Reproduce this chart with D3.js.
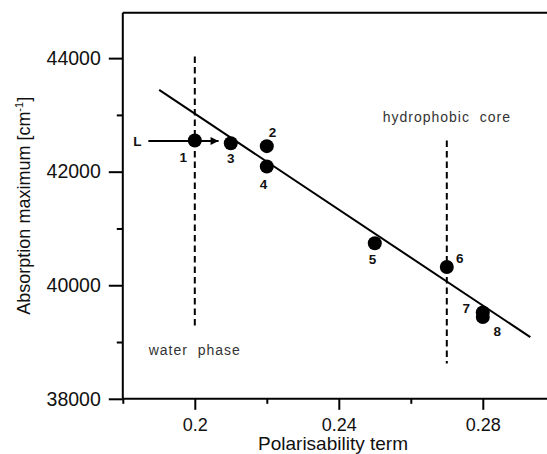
<!DOCTYPE html>
<html>
<head>
<meta charset="utf-8">
<script src="https://cdn.jsdelivr.net/npm/d3@7"></script>
<style>
  html, body { margin: 0; padding: 0; background: #fff; }
  svg { display: block; }
  text { font-family: "Liberation Sans", Arial, Helvetica, sans-serif; }
</style>
</head>
<body>
<script>
// Measured compounds: polarisability term vs. absorption maximum
const ids      = ["1", "2", "3", "4", "5", "6", "7", "8"];
const polar    = [0.20, 0.22, 0.21, 0.22, 0.25, 0.27, 0.28, 0.28];
const absMax   = [42550, 42450, 42500, 42090, 40740, 40320, 39520, 39440];

// Linear trend line (end points)
const fitX = [0.1901, 0.2932];
const fitY = [43440, 39085];

// Reference positions (dashed markers)
const phaseNames = ["water  phase", "hydrophobic  core"];
const phaseX     = [0.20, 0.27];
const phaseTop   = [44030, 42550];
const phaseBot   = [39260, 38620];
const phaseTextY = [38860, 42968];

// Ligand arrow
const arrowX = [0.1871, 0.2066];
const arrowY = 42540;

// Axis ticks
const yMajor = [38000, 40000, 42000, 44000];
const yMinor = [39000, 41000, 43000];
const xMajor = [0.20, 0.24, 0.28];
const xMinor = [0.18, 0.22, 0.26, 0.30];

const W = 547, H = 454;
const svg = d3.select("body").append("svg").attr("width", W).attr("height", H);

const x = d3.scaleLinear().domain([0.18, 0.30]).range([122.8, 554.8]);
const y = d3.scaleLinear().domain([38000, 44800]).range([398.8, 12.7]);

const ink = "#000";

// frame (top and right edges)
svg.append("path")
  .attr("d", `M${x(0.18)},${y(44800)}H${x(0.30)}V${y(38000)}`)
  .attr("fill", "none").attr("stroke", ink).attr("stroke-width", 2);

// Y axis
function yAxis(ticks, size, labels) {
  const g = svg.append("g").attr("transform", `translate(${x(0.18)},0)`)
    .call(d3.axisLeft(y).tickValues(ticks).tickSize(size).tickPadding(8)
      .tickFormat(labels ? d3.format("d") : () => ""));
  g.select(".domain").remove();
  g.selectAll("line").attr("stroke", ink).attr("stroke-width", 2);
  g.selectAll("text").attr("font-size", 19.5).attr("fill", "#111").attr("font-family", null);
  return g;
}
yAxis(yMajor, 14, true);
yAxis(yMinor, 6, false);

// X axis
function xAxis(ticks, size, labels) {
  const g = svg.append("g").attr("transform", `translate(0,${y(38000)})`)
    .call(d3.axisBottom(x).tickValues(ticks).tickSize(size).tickPadding(labels ? 8 : 0)
      .tickFormat(labels ? d => String(+d.toFixed(2)) : () => ""));
  g.select(".domain").remove();
  g.selectAll("line").attr("stroke", ink).attr("stroke-width", 2);
  g.selectAll("text").attr("font-size", 18).attr("fill", "#111").attr("font-family", null);
  return g;
}
xAxis(xMajor, 11, true);
xAxis(xMinor, 5, false);

// axis lines
svg.append("line")
  .attr("x1", x(0.18)).attr("x2", x(0.18))
  .attr("y1", y(44800)).attr("y2", y(38000))
  .attr("stroke", ink).attr("stroke-width", 2);
svg.append("line")
  .attr("x1", x(0.18)).attr("x2", x(0.30))
  .attr("y1", y(38000)).attr("y2", y(38000))
  .attr("stroke", ink).attr("stroke-width", 2);

// axis titles
svg.append("text")
  .attr("x", 333).attr("y", 450)
  .attr("text-anchor", "middle").attr("font-size", 19).attr("fill", "#111")
  .text("Polarisability term");

const yt = svg.append("text")
  .attr("transform", `translate(30,${(y(38000) + y(44800)) / 2}) rotate(-90)`)
  .attr("text-anchor", "middle").attr("font-size", 18).attr("fill", "#111");
yt.append("tspan").text("Absorption maximum [cm");
yt.append("tspan").attr("font-size", 11).attr("dy", -7).text("-1");
yt.append("tspan").attr("dy", 7).text("]");

// dashed phase markers
phaseX.forEach((px, i) => {
  svg.append("line")
    .attr("x1", x(px)).attr("x2", x(px))
    .attr("y1", y(phaseTop[i])).attr("y2", y(phaseBot[i]))
    .attr("stroke", ink).attr("stroke-width", 2)
    .attr("stroke-dasharray", "6.5,4");
  svg.append("text")
    .attr("x", x(px)).attr("y", y(phaseTextY[i]))
    .attr("dy", "0.35em")
    .attr("text-anchor", "middle")
    .attr("font-size", 14).attr("letter-spacing", 1)
    .attr("fill", "#333")
    .style("white-space", "pre")
    .text(phaseNames[i]);
});

// trend line
svg.append("line")
  .attr("x1", x(fitX[0])).attr("y1", y(fitY[0]))
  .attr("x2", x(fitX[1])).attr("y2", y(fitY[1]))
  .attr("stroke", ink).attr("stroke-width", 2);

// arrow
svg.append("defs").append("marker")
  .attr("id", "head").attr("viewBox", "0 0 10 10")
  .attr("refX", 10).attr("refY", 5)
  .attr("markerWidth", 9).attr("markerHeight", 8)
  .attr("markerUnits", "userSpaceOnUse")
  .attr("orient", "auto")
  .append("path").attr("d", "M0,0L10,5L0,10Z").attr("fill", ink);
svg.append("line")
  .attr("x1", x(arrowX[0])).attr("x2", x(arrowX[1]))
  .attr("y1", y(arrowY)).attr("y2", y(arrowY))
  .attr("stroke", ink).attr("stroke-width", 1.8)
  .attr("marker-end", "url(#head)");
svg.append("text")
  .attr("x", x(arrowX[0]) - 11).attr("y", y(arrowY))
  .attr("dy", "0.36em").attr("text-anchor", "middle")
  .attr("font-size", 13.5).attr("font-weight", "bold").attr("fill", "#111")
  .text("L");

// points
const pts = ids.map((id, i) => ({ id, px: polar[i], ab: absMax[i] }));
svg.append("g").selectAll("circle").data(pts).join("circle")
  .attr("cx", d => x(d.px)).attr("cy", d => y(d.ab))
  .attr("r", 7).attr("fill", ink);

// point labels, placed around each marker
const labelShift = {
  "1": [-11.6, 16.7], "2": [5.6, -14], "3": [0, 14.6], "4": [-3.4, 18],
  "5": [-2.3, 16.3], "6": [13, -9.4], "7": [-16.6, -4], "8": [14.4, 14]
};
svg.append("g").selectAll("text").data(pts).join("text")
  .attr("x", d => x(d.px) + labelShift[d.id][0])
  .attr("y", d => y(d.ab) + labelShift[d.id][1])
  .attr("dy", "0.36em").attr("text-anchor", "middle")
  .attr("font-size", 13.5).attr("font-weight", "bold").attr("fill", "#111")
  .text(d => d.id);
</script>
</body>
</html>
